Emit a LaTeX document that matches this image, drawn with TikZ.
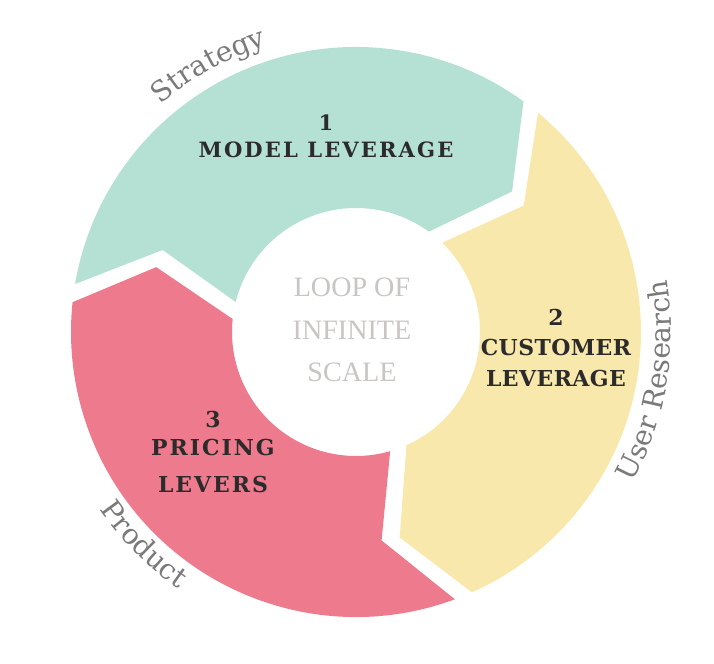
\documentclass[tikz,border=0pt]{standalone}
\usepackage{fontspec}
\usepackage{xcolor}
\usepackage{tikz}
\usetikzlibrary{decorations.text}
\setmainfont{Liberation Serif}
\newfontfamily\levfont{DejaVu Serif}
\newfontfamily\arcfont{DejaVu Serif}
\definecolor{mint}{HTML}{B5E1D4}
\definecolor{sand}{HTML}{F9E8AB}
\definecolor{rose}{HTML}{EE7B8D}
\definecolor{ink}{HTML}{2B2B2B}
\definecolor{mist}{HTML}{C8C5C3}
\definecolor{slate}{HTML}{7A7A7A}
\tikzset{
	seg/.style={fill=#1},
	lever/.style n args={3}{font=\levfont\bfseries\fontsize{#1}{#2}\selectfont\addfontfeature{LetterSpace=#3},
		text=ink, align=center, inner sep=0pt},
	arc label/.style={decorate,
		decoration={text along path, text align=center,
			text={|\arcfont\fontsize{16}{16}\selectfont\color{slate}|#1}}},
}

\begin{document}
\begin{tikzpicture}
	\useasboundingbox (-7.12,-6.64) rectangle (7.16,6.64);
	% R = 5.7, apex 4.2, hole 2.48

	% 1: model
	\fill[seg=mint] (170.3:5.7) arc[start angle=170.3, end angle=54, radius=5.7]
		-- (42:4.2) -- (54:2.48) arc[start angle=54, end angle=166, radius=2.48]
		-- (157:4.2) -- cycle;
	% 2: customer
	\fill[seg=sand] (50.3:5.7) arc[start angle=50.3, end angle=-66, radius=5.7]
		-- (-78:4.2) -- (-66:2.48) arc[start angle=-66, end angle=46, radius=2.48]
		-- (37:4.2) -- cycle;
	% 3: pricing
	\fill[seg=rose] (-69.7:5.7) arc[start angle=-69.7, end angle=-186, radius=5.7]
		-- (-198:4.2) -- (-186:2.48) arc[start angle=-186, end angle=-74, radius=2.48]
		-- (-83:4.2) -- cycle;

	% Labels
	\node[lever={12}{15.4}{10}] (model) at (-0.6,3.91) {1\\MODEL LEVERAGE};
	\node[lever={12.5}{17.6}{2}] (customer) at (4.0,-0.32) {2\\CUSTOMER\\LEVERAGE};
	\node[lever={12.5}{16}{9}] (pricing) at (-2.86,-2.4) {3\\PRICING\\[5pt]LEVERS};
	\node[font=\fontsize{16}{24}\selectfont, text=mist, align=center] (loop) at (-0.08,0.04)
		{LOOP OF\\INFINITE\\SCALE};

	% Around the ring
	\path[arc label=Strategy] (149:6.0) arc[start angle=149, end angle=89, radius=6.0];
	\path[arc label=User Research] (-40:6.3) arc[start angle=-40, end angle=21, radius=6.3];
	\path[arc label=Product] (195:6.24) arc[start angle=195, end angle=255, radius=6.24];
\end{tikzpicture}
\end{document}
